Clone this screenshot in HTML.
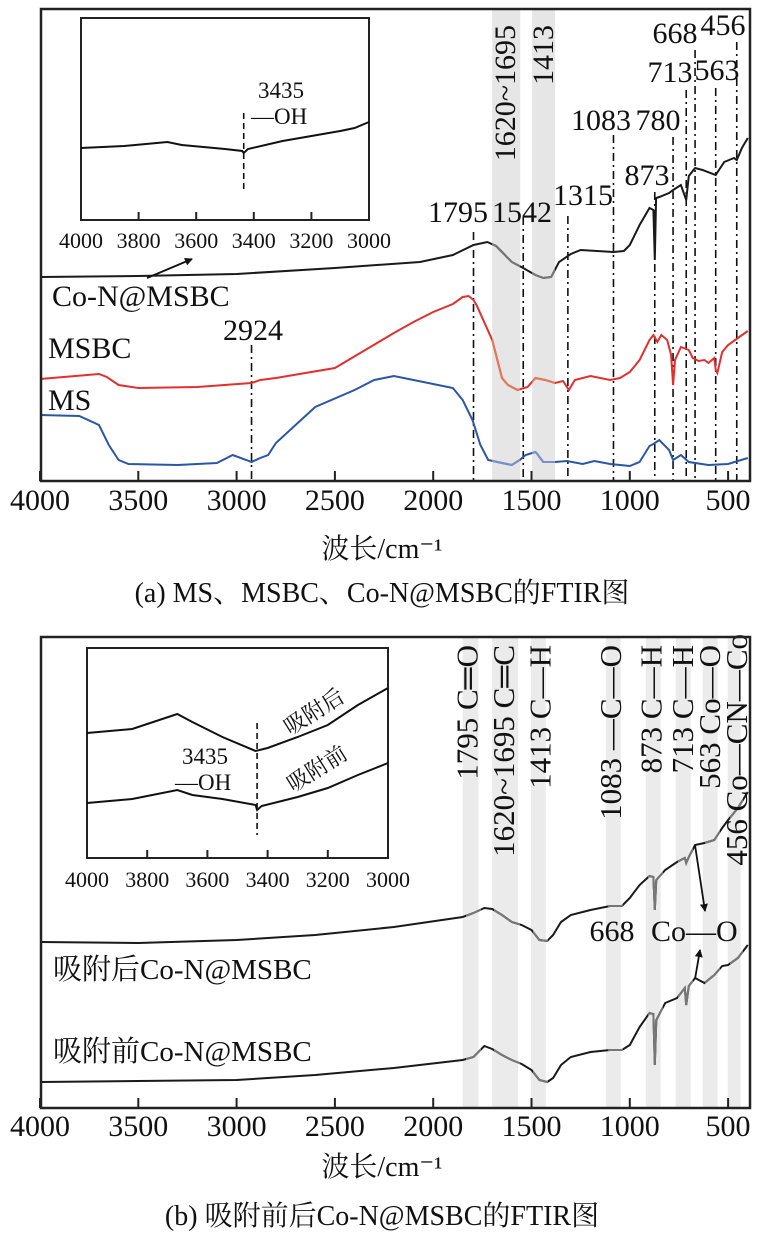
<!DOCTYPE html>
<html><head><meta charset="utf-8">
<style>
html,body{margin:0;padding:0;background:#fff;}
svg{display:block;font-family:"Liberation Serif","Noto Serif CJK SC",serif;}
</style></head>
<body>
<svg id="fig" width="761" height="1241" viewBox="0 0 761 1241" xmlns="http://www.w3.org/2000/svg">
<defs>
<clipPath id="clipA"><rect x="492" y="9" width="28" height="472"/><rect x="532" y="9" width="23" height="472"/></clipPath>
<clipPath id="clipB"><rect x="466" y="637" width="15" height="471"/><rect x="494" y="637" width="26" height="471"/><rect x="533" y="637" width="15" height="471"/><rect x="608" y="637" width="15" height="471"/><rect x="648" y="637" width="15" height="471"/><rect x="678" y="637" width="15" height="471"/><rect x="705" y="637" width="15" height="471"/><rect x="730" y="637" width="13" height="471"/></clipPath>
<marker id="arr" markerWidth="8" markerHeight="8" refX="7" refY="4" orient="auto" markerUnits="userSpaceOnUse"><path d="M0,0 L8,4 L0,8 Z" fill="#111"/></marker>
</defs>
<g id="gA"></g>
<g id="gB"></g>
</svg>
<script>
// ---------- Panel (a) data ----------
const bandsA = [[1700,1557],[1497,1380]];
const peakLinesA = [2924,1795,1542,1315,1083,873,780,713,668,563,456];
const peakLabelsA = ["2924","1795","1542","1315","1083","873","780","713","668","563","456"];
const xTicks = [4000,3500,3000,2500,2000,1500,1000,500];
const xTickLabels = ["4000","3500","3000","2500","2000","1500","1000","500"];
const conWn = [4000,3500,3000,2500,2067,1900,1795,1725,1680,1650,1600,1542,1480,1440,1400,1360,1300,1250,1083,1030,1000,950,900,880,873,866,850,800,780,740,713,700,668,630,563,520,470,456,430,400];
const conVal = [204,205,207,213,219,226,236,239,235,229,219,213,206,203,204,219,227,231,229,230,236,256,273,271,221,283,284,288,291,296,281,305,313,311,306,319,323,321,333,343];
const msbcWn = [4000,3700,3660,3600,3500,3200,2924,2880,2800,2500,2200,2100,2000,1900,1850,1820,1795,1780,1700,1650,1620,1570,1520,1480,1430,1380,1340,1310,1280,1200,1100,1050,1000,950,900,880,860,840,810,790,780,770,740,700,680,650,620,600,570,563,555,530,500,450,400];
const msbcVal = [102,107,104,96,93,94,98,101,103,113,148,159,169,177,184,185,181,176,141,103,96,91,94,103,101,98,100,91,101,105,101,103,109,121,141,146,139,146,141,126,96,121,134,131,123,120,121,118,123,111,108,129,136,143,150];
const msWn = [4000,3800,3700,3650,3600,3550,3300,3100,3020,2950,2924,2880,2840,2800,2600,2400,2300,2250,2200,2100,2000,1900,1850,1800,1760,1720,1650,1600,1560,1530,1480,1470,1460,1440,1380,1320,1240,1180,1100,1000,950,900,880,850,800,780,740,700,600,500,400];
const msVal = [66,65,56,36,21,17,16,18,26,21,19,23,26,38,74,91,101,103,105,101,97,93,81,61,36,21,18,16,21,26,29,27,24,19,19,20,17,20,17,15,19,35,37,41,31,21,26,19,16,17,23];
const insetAWn = [4000,3850,3700,3650,3500,3440,3435,3420,3300,3200,3100,3050,3000];
const insetAVal = [72,74,78,75,71,69,67,71,79,84,89,92,98];
const insetTicks = [4000,3800,3600,3400,3200,3000];
const insetTickLabels = ["4000","3800","3600","3400","3200","3000"];
// ---------- Panel (b) data ----------
const bandsB = [[1850,1770],[1700,1568],[1503,1427],[1122,1046],[919,843],[766,690],[629,553],[502,436]];
const bLabels = ["1795  C═O","1620~1695  C═C","1413  C—H","1083  —C—O","873  C—H","713  C—H","563  Co—O","456  Co—CN—Co"];
const bLabelWn = [1825,1640,1453,1095,890,730,593,456];
const bWn = [4000,3500,3000,2600,2200,1850,1795,1740,1700,1650,1600,1550,1500,1460,1420,1390,1350,1300,1200,1100,1040,1000,950,900,880,873,865,820,760,720,713,700,668,620,570,530,500,450,400];
const afterVal = [166,165,168,173,181,191,195,200,199,193,186,183,178,168,167,173,186,193,198,202,202,210,223,232,231,198,228,238,246,250,245,251,263,265,268,280,288,300,316];
const beforeVal = [26,27,28,33,40,48,51,62,59,53,48,44,38,28,26,30,43,51,56,58,58,63,81,95,94,43,88,105,110,120,103,122,130,125,133,142,143,150,163];
const insetAfterWn = [4000,3850,3700,3650,3550,3440,3400,3300,3200,3100,3000];
const insetAfterVal = [125,129,144,136,121,107,110,121,133,153,170];
const insetBeforeWn = [4000,3850,3700,3650,3550,3440,3435,3420,3300,3200,3100,3000];
const insetBeforeVal = [55,59,68,63,59,53,48,52,61,70,83,95];

const NS = "http://www.w3.org/2000/svg";
const xMain = w => 40 + (4000 - w) * 0.1966;
const yA = v => 481 - v;
const yB = v => 1108 - v;
const xInA = w => 81 + (4000 - w) * 0.288;
const yInA = v => 220 - v;
const xInB = w => 87 + (4000 - w) * 0.301;
const yInB = v => 858 - v;

function mk(parent, tag, attrs){
  const e = document.createElementNS(NS, tag);
  for (const k in attrs) e.setAttribute(k, attrs[k]);
  parent.appendChild(e);
  return e;
}
function pathD(wn, val, xf, yf){
  return wn.map((w,i)=>(i?"L":"M")+xf(w).toFixed(1)+","+yf(val[i]).toFixed(1)).join(" ");
}
function txt(parent, x, y, s, size, anchor, extra){
  const t = mk(parent, "text", Object.assign({x:x, y:y, "font-size":size, "text-anchor":anchor||"start", fill:"#111", "xml:space":"preserve"}, extra||{}));
  t.textContent = s;
  return t;
}

// ================= PANEL A =================
const gA = document.getElementById("gA");
bandsA.forEach(b=>{
  const r = mk(gA,"rect",{x:xMain(b[0]), y:9, width:xMain(b[1])-xMain(b[0]), height:472, fill:"#e6e6e6"});
  
  
});
peakLinesA.forEach((w,i)=>{
  const tops = [345,232,217,216,135,192,137,90,50,88,42];
  const l = mk(gA,"line",{x1:xMain(w), x2:xMain(w), y1:tops[i], y2:481, stroke:"#111", "stroke-width":1.6, "stroke-dasharray":"8 4 2 4"});
  
  
});
[[conWn,conVal,"#1a1a1a","#777","series-co-n-msbc"],[msbcWn,msbcVal,"#e23030","#e07a5a","series-msbc"],[msWn,msVal,"#2a56a4","#7d8fc8","series-ms"]].forEach(s=>{
  const d = pathD(s[0],s[1],xMain,yA);
  const p = mk(gA,"path",{d:d, fill:"none", stroke:s[2], "stroke-width":2});
  
  
  const p2 = mk(gA,"path",{d:d, fill:"none", stroke:s[3], "stroke-width":2, "clip-path":"url(#clipA)"});
  
  
});
const boxA = mk(gA,"rect",{x:41,y:9,width:709,height:472,fill:"none",stroke:"#222","stroke-width":2.5});


xTicks.forEach((w,i)=>{
  const t = mk(gA,"line",{x1:xMain(w),x2:xMain(w),y1:481,y2:471,stroke:"#222","stroke-width":2});
  
  
  const lb = txt(gA, i==7?728:xMain(w), 510, xTickLabels[i], 30, "middle");
  
  
});
const plA = [[253,340,"2924"],[458,222,"1795"],[522,222,"1542"],[583,205,"1315"],[601,130,"1083"],[647,185,"873"],[658,130,"780"],[670,82,"713"],[675,43,"668"],[717,80,"563"],[723,35,"456"]];
plA.forEach(p=>{
  const t = txt(gA,p[0],p[1],p[2],30,"middle");
  
  
});
let rt = txt(gA,0,0,"1620~1695",30,"end",{transform:"translate(515,25) rotate(-90)"});


rt = txt(gA,0,0,"1413",30,"end",{transform:"translate(553,25) rotate(-90)"});


[["Co-N@MSBC",52,306],["MSBC",48,358],["MS",48,410]].forEach(s=>{
  const t = txt(gA,s[1],s[2],s[0],30,"start");
  
  
});
const arA = mk(gA,"line",{x1:147,y1:278,x2:192,y2:259,stroke:"#111","stroke-width":1.8,"marker-end":"url(#arr)"});


const inA = mk(gA,"rect",{x:81,y:18,width:288,height:202,fill:"#fff",stroke:"#222","stroke-width":2});


insetTicks.forEach((w,i)=>{
  if(i>0 && i<5){
    const t = mk(gA,"line",{x1:xInA(w),x2:xInA(w),y1:220,y2:212,stroke:"#222","stroke-width":2});
    
    
  }
  const lb = txt(gA,xInA(w),248,insetTickLabels[i],22,"middle");
  
  
});
const ipA = mk(gA,"path",{d:pathD(insetAWn,insetAVal,xInA,yInA),fill:"none",stroke:"#111","stroke-width":2});


const idA = mk(gA,"line",{x1:xInA(3435),x2:xInA(3435),y1:113,y2:190,stroke:"#111","stroke-width":1.6,"stroke-dasharray":"6 4"});


rt = txt(gA,281,98,"3435",23,"middle");  
rt = txt(gA,251,124,"—OH",23,"start");  
rt = txt(gA,382,558,"波长/cm⁻¹",28,"middle");  
rt = txt(gA,382,602,"(a) MS、MSBC、Co-N@MSBC的FTIR图",28,"middle");  

// ================= PANEL B =================
const gB = document.getElementById("gB");
bandsB.forEach(b=>{
  const r = mk(gB,"rect",{x:xMain(b[0]), y:637, width:xMain(b[1])-xMain(b[0]), height:471, fill:"#ebebeb"});
  
  
});
[[bWn,afterVal,"series-after-adsorption"],[bWn,beforeVal,"series-before-adsorption"]].forEach(s=>{
  const d = pathD(s[0],s[1],xMain,yB);
  const p = mk(gB,"path",{d:d,fill:"none",stroke:"#1a1a1a","stroke-width":2});
  
  
  const p2 = mk(gB,"path",{d:d,fill:"none",stroke:"#777","stroke-width":2,"clip-path":"url(#clipB)"});
  
  
});
bLabels.forEach((s,i)=>{
  const cx = xMain(bLabelWn[i]);
  const t = txt(gB,0,0,s,31,"end",{transform:"translate("+(cx+10).toFixed(1)+","+(i==7?634:645)+") rotate(-90)"});
  
  
});
const boxB = mk(gB,"rect",{x:41,y:637,width:709,height:471,fill:"none",stroke:"#222","stroke-width":2.5});


xTicks.forEach((w,i)=>{
  const t = mk(gB,"line",{x1:xMain(w),x2:xMain(w),y1:1108,y2:1098,stroke:"#222","stroke-width":2});
  
  
  const lb = txt(gB, i==7?728:xMain(w), 1136, xTickLabels[i], 30, "middle");
  
  
});
[["吸附后Co-N@MSBC",53,979],["吸附前Co-N@MSBC",53,1061]].forEach(s=>{
  const t = txt(gB,s[1],s[2],s[0],29,"start");
  
  
});
rt = txt(gB,612,941,"668",30,"middle");  
rt = txt(gB,651,941,"Co—O",30,"start");  
rt = mk(gB,"line",{x1:695,y1:845,x2:705,y2:911,stroke:"#111","stroke-width":1.8,"marker-end":"url(#arr)"});  
rt = mk(gB,"line",{x1:695,y1:979,x2:700,y2:950,stroke:"#111","stroke-width":1.8,"marker-end":"url(#arr)"});  
const inB = mk(gB,"rect",{x:87,y:648,width:301,height:210,fill:"#fff",stroke:"#222","stroke-width":2});


insetTicks.forEach((w,i)=>{
  if(i>0 && i<5){
    const t = mk(gB,"line",{x1:xInB(w),x2:xInB(w),y1:858,y2:850,stroke:"#222","stroke-width":2});
    
    
  }
  const lb = txt(gB,xInB(w),887,insetTickLabels[i],22,"middle");
  
  
});
rt = mk(gB,"path",{d:pathD(insetAfterWn,insetAfterVal,xInB,yInB),fill:"none",stroke:"#111","stroke-width":2});  
rt = mk(gB,"path",{d:pathD(insetBeforeWn,insetBeforeVal,xInB,yInB),fill:"none",stroke:"#111","stroke-width":2});  
rt = mk(gB,"line",{x1:xInB(3435),x2:xInB(3435),y1:723,y2:835,stroke:"#111","stroke-width":1.6,"stroke-dasharray":"6 4"});  
rt = txt(gB,205,764,"3435",23,"middle");  
rt = txt(gB,175,790,"—OH",23,"start");  
rt = txt(gB,0,0,"吸附后",22,"middle",{transform:"translate(318,718) rotate(-32)"});  
rt = txt(gB,0,0,"吸附前",22,"middle",{transform:"translate(321,775) rotate(-32)"});  
rt = txt(gB,382,1176,"波长/cm⁻¹",28,"middle");  
rt = txt(gB,382,1225,"(b) 吸附前后Co-N@MSBC的FTIR图",28,"middle");  
</script>
</body></html>
